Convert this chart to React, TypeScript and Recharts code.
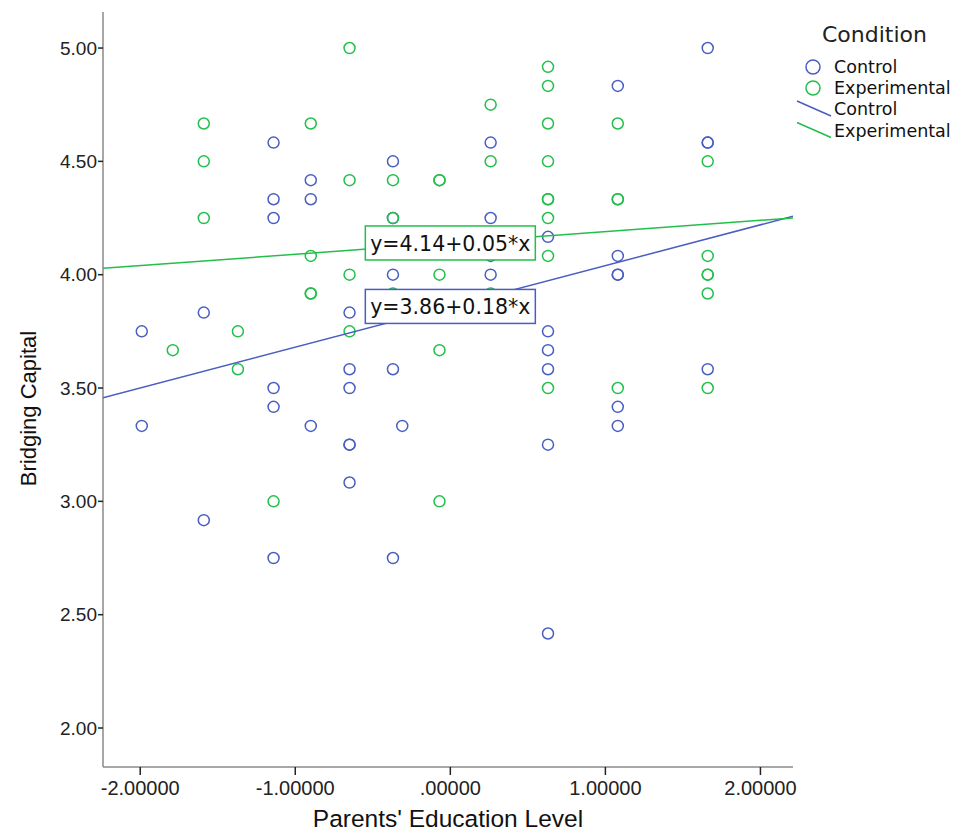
import { ScatterChart, Scatter, XAxis, YAxis } from "recharts"

// Parents' Education Level (x) and Bridging Capital (y), read column by column
const controlEdu = [
  -1.99, -1.99,
  -1.59, -1.59,
  -1.14, -1.14, -1.14, -1.14, -1.14, -1.14,
  -0.9, -0.9, -0.9,
  -0.65, -0.65, -0.65, -0.65, -0.65, -0.65,
  -0.37, -0.37, -0.37, -0.37, -0.37,
  -0.31,
  0.26, 0.26, 0.26, 0.26,
  0.63, 0.63, 0.63, 0.63, 0.63, 0.63,
  1.08, 1.08, 1.08, 1.08, 1.08, 1.08,
  1.66, 1.66, 1.66, 1.66,
]
const controlBridging = [
  3.75, 3.333,
  3.833, 2.917,
  4.583, 4.333, 4.25, 3.5, 3.417, 2.75,
  4.417, 4.333, 3.333,
  3.833, 3.583, 3.5, 3.25, 3.25, 3.083,
  4.5, 4.25, 4.0, 3.583, 2.75,
  3.333,
  4.583, 4.25, 4.083, 4.0,
  4.167, 3.75, 3.667, 3.583, 3.25, 2.417,
  4.833, 4.083, 4.0, 4.0, 3.417, 3.333,
  5.0, 4.583, 4.583, 3.583,
]
const experimentalEdu = [
  -1.79,
  -1.59, -1.59, -1.59,
  -1.37, -1.37,
  -1.14,
  -0.9, -0.9, -0.9, -0.9,
  -0.65, -0.65, -0.65, -0.65,
  -0.37, -0.37, -0.37,
  -0.07, -0.07, -0.07, -0.07, -0.07,
  0.26, 0.26, 0.26,
  0.63, 0.63, 0.63, 0.63, 0.63, 0.63, 0.63, 0.63, 0.63,
  1.08, 1.08, 1.08, 1.08,
  1.66, 1.66, 1.66, 1.66, 1.66, 1.66,
]
const experimentalBridging = [
  3.667,
  4.667, 4.5, 4.25,
  3.75, 3.583,
  3.0,
  4.667, 4.083, 3.917, 3.917,
  5.0, 4.417, 4.0, 3.75,
  4.417, 4.25, 3.917,
  4.417, 4.417, 4.0, 3.667, 3.0,
  4.75, 4.5, 3.917,
  4.917, 4.833, 4.667, 4.5, 4.333, 4.333, 4.25, 4.083, 3.5,
  4.667, 4.333, 4.333, 3.5,
  4.5, 4.083, 4.0, 4.0, 3.917, 3.5,
]

// fit lines: y = a + b*x
const fitNames = ["Control", "Experimental"]
const fitIntercepts = [3.86, 4.14]
const fitSlopes = [0.18, 0.05]

const xTicks = [-2, -1, 0, 1, 2]
const yTicks = [2, 2.5, 3, 3.5, 4, 4.5, 5]

const X_DOMAIN: [number, number] = [-2.24, 2.21]
const Y_DOMAIN: [number, number] = [1.828, 5.159]

const BLUE = "#4a5ec2"
const GREEN = "#22bf4b"
const colors = [BLUE, GREEN]

const toPoints = (xs: number[], ys: number[]) => xs.map((x, i) => ({ x, y: ys[i] }))

const controlData = toPoints(controlEdu, controlBridging)
const experimentalData = toPoints(experimentalEdu, experimentalBridging)

const fitLines = fitIntercepts.map((a, i) =>
  X_DOMAIN.map((x) => ({ x, y: a + fitSlopes[i] * x }))
)
const fitLabels = fitIntercepts.map((a, i) => [
  { x: 0, y: a, text: `y=${a.toFixed(2)}+${fitSlopes[i].toFixed(2)}*x` },
])

const fmtX = (v: number) => {
  const s = v.toFixed(5)
  return s.replace(/^(-?)0\./, "$1.")
}

const openCircle = (color: string) => (props: any) => (
  <circle cx={props.cx} cy={props.cy} r={5.5} fill="none" stroke={color} strokeWidth={1.5} />
)

const labelBox = (color: string) => (props: any) => (
  <g>
    <rect x={props.cx - 85} y={props.cy - 17} width={170} height={34} fill="#fff" stroke={color} strokeWidth={1.5} />
    <text
      x={props.cx}
      y={props.cy + 1}
      textAnchor="middle"
      dominantBaseline="central"
      fontFamily="DejaVu Sans"
      fontSize={20.5}
      fill="#111"
    >
      {props.payload.text}
    </text>
  </g>
)

const yTickStyle = { fill: "#222", fontSize: 19, fontFamily: "Liberation Sans" }
const xTickStyle = { fill: "#222", fontSize: 20, fontFamily: "Liberation Sans" }

function LegendBox() {
  const font = { fontFamily: "DejaVu Sans", fontSize: 17.5, fill: "#111" }
  return (
    <svg width={165} height={150} style={{ position: "absolute", left: 790, top: 0 }}>
      <text x={32} y={34} dominantBaseline="central" fontFamily="DejaVu Sans" fontSize={22} fill="#222">
        Condition
      </text>
      {fitNames.map((name, i) => (
        <g key={"p" + name}>
          <circle cx={23} cy={67 + i * 21} r={7} fill="none" stroke={colors[i]} strokeWidth={1.5} />
          <text x={44} y={67 + i * 21} dominantBaseline="central" {...font}>
            {name}
          </text>
        </g>
      ))}
      {fitNames.map((name, i) => (
        <g key={"l" + name}>
          <line x1={7} y1={101 + i * 21.5} x2={41} y2={116 + i * 21.5} stroke={colors[i]} strokeWidth={1.5} />
          <text x={44} y={109 + i * 22} dominantBaseline="central" {...font}>
            {name}
          </text>
        </g>
      ))}
    </svg>
  )
}

export default function App() {
  return (
    <div style={{ position: "absolute", left: 0, top: 0, width: 955, height: 833, background: "#fff" }}>
      <ScatterChart width={955} height={833} margin={{ top: 12, right: 162, bottom: 0, left: 0 }}>
        <XAxis
          type="number"
          dataKey="x"
          domain={X_DOMAIN}
          ticks={xTicks}
          allowDataOverflow
          height={66}
          tickFormatter={fmtX}
          tick={xTickStyle}
          tickSize={8}
          tickMargin={6}
          axisLine={{ stroke: "#8a8a8a", strokeWidth: 1.5 }}
          tickLine={{ stroke: "#222", strokeWidth: 1.5 }}
          label={{
            value: "Parents' Education Level",
            position: "insideBottom",
            offset: 6,
            style: { fill: "#111", fontSize: 24.5, fontFamily: "Liberation Sans" },
          }}
        />
        <YAxis
          type="number"
          dataKey="y"
          domain={Y_DOMAIN}
          ticks={yTicks}
          allowDataOverflow
          width={103}
          tickFormatter={(v: number) => v.toFixed(2)}
          tick={yTickStyle}
          tickSize={5}
          tickMargin={1}
          axisLine={{ stroke: "#8a8a8a", strokeWidth: 1.5 }}
          tickLine={{ stroke: "#222", strokeWidth: 1.5 }}
          label={{
            value: "Bridging Capital",
            angle: -90,
            position: "center",
            dx: -23,
            dy: 19,
            style: { fill: "#111", fontSize: 22, fontFamily: "Liberation Sans", textAnchor: "middle" },
          }}
        />
        <Scatter name="Control" data={controlData} shape={openCircle(BLUE)} isAnimationActive={false} />
        <Scatter name="Experimental" data={experimentalData} shape={openCircle(GREEN)} isAnimationActive={false} />
        {fitLines.map((pts, i) => (
          <Scatter
            key={"fit" + i}
            data={pts}
            line={{ stroke: colors[i], strokeWidth: 1.5 }}
            shape={() => <g />}
            isAnimationActive={false}
          />
        ))}
        {fitLabels.map((pts, i) => (
          <Scatter key={"lab" + i} data={pts} shape={labelBox(colors[i])} isAnimationActive={false} />
        ))}
      </ScatterChart>
      <LegendBox />
    </div>
  )
}
